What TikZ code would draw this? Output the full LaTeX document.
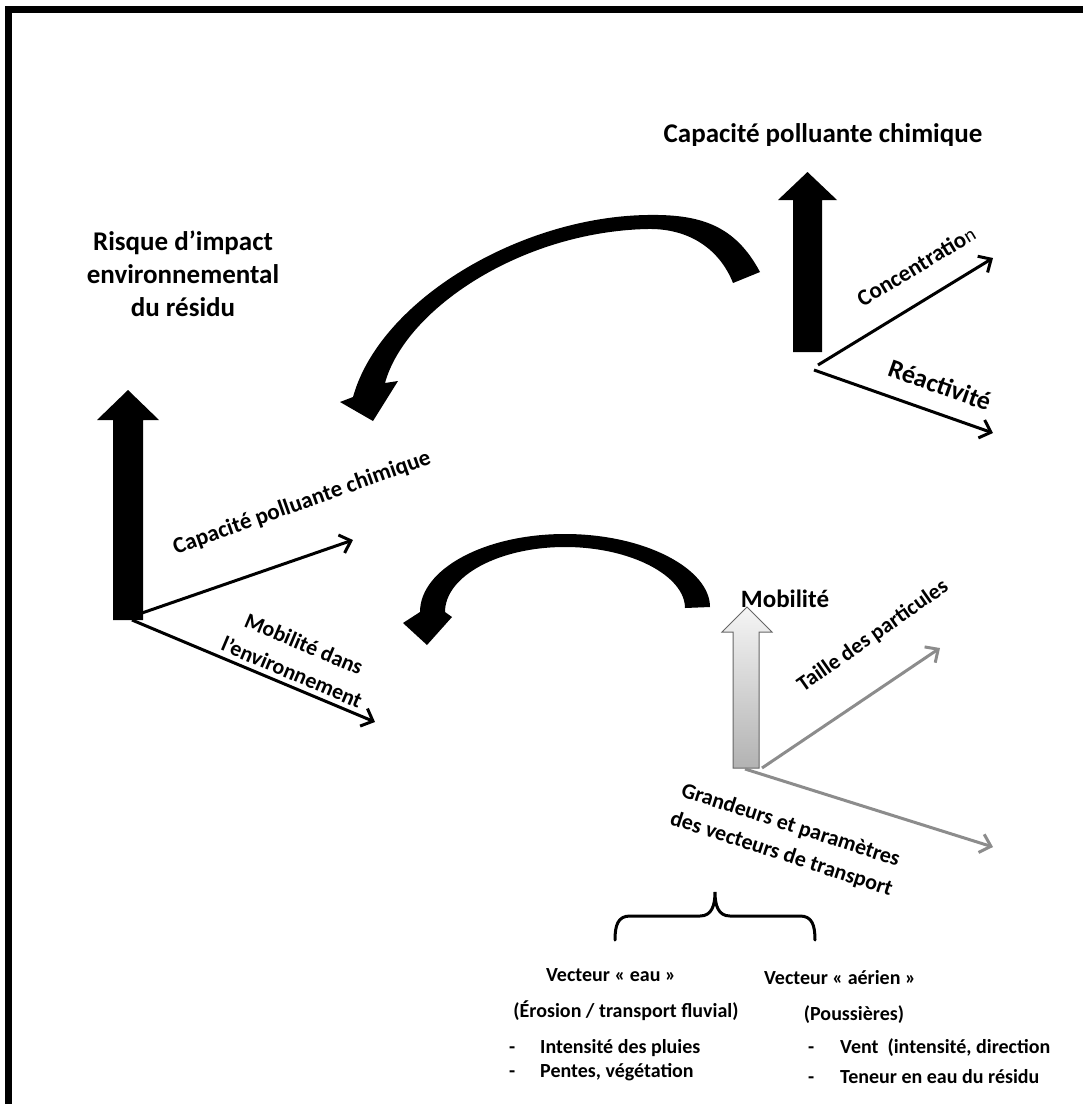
\documentclass[tikz,border=0pt]{standalone}
\usepackage{fontspec}
\setmainfont{Carlito}
\usetikzlibrary{arrows.meta}
\begin{document}
\begin{tikzpicture}[x=1pt,y=-1pt,
  lbl/.style={font=\bfseries, inner sep=0pt, text=black},
  fs/.style={font=\bfseries\fontsize{#1}{#1}\selectfont},
  thinarrow/.style={line width=3pt, -{Straight Barb[length=10pt,width=19pt]}},
  grayarrow/.style={thinarrow, draw=black!45},
  blockfill/.style={fill=black},
  curvefill/.style={fill=black},
  bullet/.style={lbl, fs=20, anchor=base west}]
\useasboundingbox (0,0) rectangle (1083,1104);
% frame (open on right and bottom)
\draw[line width=7pt, line join=miter] (8.5,1104) -- (8.5,9.5) -- (1083,9.5);

% ---------- upper right group ----------
\fill[blockfill] (793,352) -- (793,200) -- (778,200) -- (807.5,172) -- (837,200) -- (822,200) -- (822,352) -- cycle;
\coordinate (oA) at (818,365);
\coordinate (oB) at (814,370);
\coordinate (conc) at (993,258);
\coordinate (reac) at (993,433);
\draw[thinarrow] (oA) -- (conc);
\draw[thinarrow] (oB) -- (reac);
\begin{scope}
  \clip (600,100) rectangle (1060,145);
  \node[lbl, fs=27, anchor=base] (t1) at (823,142) {Capacité polluante chimique};
\end{scope}
\node[lbl, fs=23, rotate=31] (lconc) at (916,266) {Concentratio{\mdseries\fontsize{20}{20}\selectfont n}};
\node[lbl, fs=26, rotate=-19.5] (lreac) at (940,385) {Réactivité};

% ---------- top curved arrow ----------
\fill[curvefill] (760,272) .. controls (735,225) and (700,214) .. (647,215)
  .. controls (520,217) and (380,300) .. (353,397)
  -- (340,402) -- (373,421) -- (398,381) -- (385,383)
  .. controls (405,310) and (520,232) .. (647,229)
  .. controls (690,228) and (720,250) .. (733,283) -- cycle;

% ---------- left group ----------
\node[lbl, align=center, font=\bfseries\fontsize{27}{33}\selectfont] (risk) at (183,274) {Risque d’impact\\environnemental\\du résidu};
\fill[blockfill] (113,620) -- (113,420) -- (97,420) -- (128,390) -- (159,420) -- (143,420) -- (143,620) -- cycle;
\coordinate (oC) at (142,613);
\coordinate (oD) at (132,620);
\coordinate (cap) at (353,540);
\coordinate (mob) at (375,722);
\draw[thinarrow] (oC) -- (cap);
\draw[thinarrow] (oD) -- (mob);
\node[lbl, fs=23, rotate=19.5] (lcap) at (302,503) {Capacité polluante chimique};
\node[lbl, align=center, font=\bfseries\fontsize{22}{31}\selectfont, rotate=-23] (lmob) at (298,658) {Mobilité dans\\l’environnement};

% ---------- bottom curved arrow ----------
\fill[curvefill] (710,607) .. controls (710,568.9) and (645.1,534) .. (565,534)
  .. controls (484.9,534) and (420,568.9) .. (420,612)
  -- (403,623) -- (427,645) -- (452,617) -- (445,612)
  .. controls (445,576.1) and (498.7,547) .. (565,547)
  .. controls (631.3,547) and (685,576.1) .. (685,608) -- cycle;

% ---------- mobility group ----------
\node[lbl, fs=25] (lmobi) at (785,599) {Mobilité};
\shade[top color=white!96!black, bottom color=black!30, draw=black!60, line width=1pt]
  (733,768) -- (733,632) -- (722,632) -- (747,607) -- (772,632) -- (759,632) -- (759,768) -- cycle;
\coordinate (oE) at (762,768);
\coordinate (oF) at (745,769);
\coordinate (taille) at (940,648);
\coordinate (grand) at (993,847);
\draw[grayarrow] (oE) -- (taille);
\draw[grayarrow] (oF) -- (grand);
\node[lbl, fs=22, rotate=35] (ltaille) at (873,636) {Taille des particules};
\node[lbl, align=center, font=\bfseries\fontsize{22}{30}\selectfont, rotate=-18] (lgrand) at (786,840) {Grandeurs et paramètres\\des vecteurs de transport};

% ---------- brace ----------
\draw[line width=3pt, line cap=round] (615,940) .. controls (615,925) and (618,916) .. (630,916) -- (700,916)
  .. controls (712,916) and (715,905) .. (715,892)
  .. controls (715,905) and (718,916) .. (730,916) -- (800,916)
  .. controls (812,916) and (815,925) .. (815,940);

% ---------- bottom texts ----------
\node[lbl, fs=20] (ve) at (611,975) {Vecteur « eau »};
\node[lbl, fs=20] (va) at (840,978) {Vecteur « aérien »};
\node[lbl, fs=20] (er) at (626,1011) {(Érosion / transport fluvial)};
\node[lbl, fs=20] (po) at (854,1015) {(Poussières)};
\node[bullet] (i1) at (509,1053) {\makebox[31pt][l]{-}Intensité des pluies};
\node[bullet] (i2) at (509,1077) {\makebox[31pt][l]{-}Pentes, végétation};
\node[bullet] (i3) at (808,1053) {\makebox[32pt][l]{-}Vent\ \ (intensité, direction};
\node[bullet] (i4) at (808,1083) {\makebox[32pt][l]{-}Teneur en eau du résidu};
\end{tikzpicture}
\end{document}
